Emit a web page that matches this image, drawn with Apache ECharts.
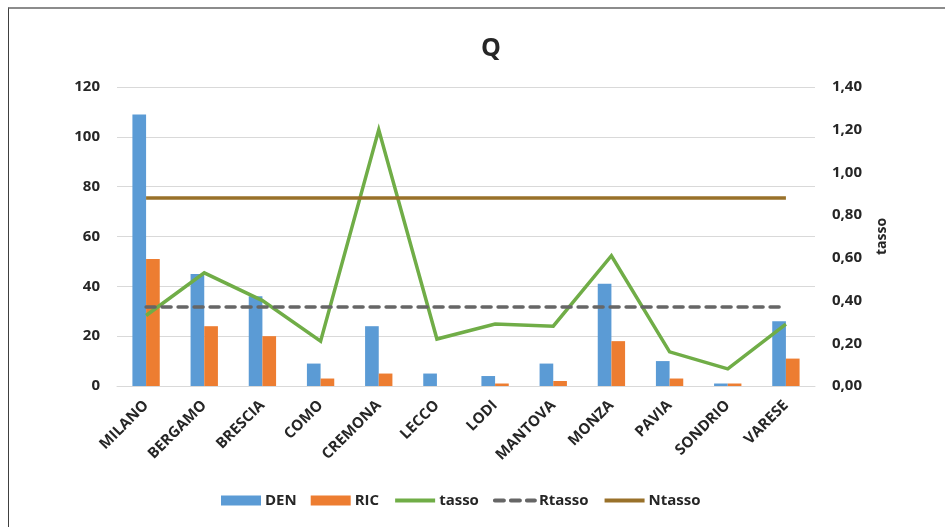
<!DOCTYPE html>
<html>
<head>
<meta charset="utf-8">
<script src="https://cdn.jsdelivr.net/npm/echarts@6/dist/echarts.min.js"></script>
<style>
html,body{margin:0;padding:0;background:#fff;}
#frame{position:absolute;left:8px;top:7px;width:960px;height:540px;border-top:2px solid #8c8c8c;border-left:1px solid #404040;}
#chart{position:absolute;left:0;top:0;width:945px;height:527px;}
</style>
</head>
<body>
<div id="frame"></div>
<div id="chart"></div>
<script>
var categories = ['MILANO','BERGAMO','BRESCIA','COMO','CREMONA','LECCO','LODI','MANTOVA','MONZA','PAVIA','SONDRIO','VARESE'];
var den = [109, 45, 36, 9, 24, 5, 4, 9, 41, 10, 1, 26];
var ric = [51, 24, 20, 3, 5, 0, 1, 2, 18, 3, 1, 11];
var tasso = [0.33, 0.53, 0.40, 0.21, 1.20, 0.22, 0.29, 0.28, 0.61, 0.16, 0.08, 0.29];
var rtasso = [0.37, 0.37, 0.37, 0.37, 0.37, 0.37, 0.37, 0.37, 0.37, 0.37, 0.37, 0.37];
var ntasso = [0.88, 0.88, 0.88, 0.88, 0.88, 0.88, 0.88, 0.88, 0.88, 0.88, 0.88, 0.88];
var leftTicks = {min: 0, max: 120, interval: 20};
var rightTicks = {min: 0, max: 1.4, interval: 0.2};

var FONT = '"Open Sans", sans-serif';
var TXT = '#262626';
var chart = echarts.init(document.getElementById('chart'), null, {renderer: 'canvas'});
chart.setOption({
  animation: false,
  backgroundColor: 'transparent',
  textStyle: {fontFamily: FONT},
  title: {
    text: 'Q', left: 476, top: 31,
    textStyle: {fontFamily: FONT, fontWeight: 'bold', fontSize: 25, color: TXT}
  },
  legend: {
    left: 216, top: 488,
    itemWidth: 40, itemHeight: 10, itemGap: 14,
    textStyle: {fontFamily: FONT, fontWeight: 'bold', fontSize: 15, color: TXT, padding: [0,0,0,-1]},
    data: [
      {name: 'DEN', icon: 'rect'},
      {name: 'RIC', icon: 'rect'},
      {name: 'tasso', itemStyle: {opacity: 0}, lineStyle: {width: 4}},
      {name: 'Rtasso', itemStyle: {opacity: 0}, lineStyle: {width: 4}},
      {name: 'Ntasso', itemStyle: {opacity: 0}, lineStyle: {width: 4}}
    ]
  },
  grid: {left: 117, right: 130, top: 87, bottom: 141},
  xAxis: {
    type: 'category', data: categories,
    axisLine: {show: true, lineStyle: {color: '#d9d9d9', width: 1}},
    axisTick: {show: false},
    axisLabel: {rotate: 45, margin: 17, interval: 0, fontFamily: FONT, fontWeight: 'bold', fontSize: 15, color: TXT}
  },
  yAxis: [
    {
      type: 'value', min: leftTicks.min, max: leftTicks.max, interval: leftTicks.interval,
      axisLine: {show: false}, axisTick: {show: false},
      splitLine: {lineStyle: {color: '#d9d9d9', width: 1}},
      axisLabel: {margin: 17, fontFamily: FONT, fontWeight: 'bold', fontSize: 15, color: TXT}
    },
    {
      type: 'value', position: 'right', min: rightTicks.min, max: rightTicks.max, interval: rightTicks.interval,
      name: 'tasso', nameLocation: 'middle', nameRotate: 90, nameGap: 60,
      nameTextStyle: {fontFamily: FONT, fontWeight: 'bold', fontSize: 14, color: TXT},
      axisLine: {show: false}, axisTick: {show: false},
      splitLine: {show: false},
      axisLabel: {margin: 17, fontFamily: FONT, fontWeight: 'bold', fontSize: 15, color: TXT,
        formatter: function (v) { return v.toFixed(2).replace('.', ','); }}
    }
  ],
  series: [
    {name: 'DEN', type: 'bar', data: den, barWidth: '23.5%', barGap: '0%', itemStyle: {color: '#5B9BD5'}},
    {name: 'RIC', type: 'bar', data: ric, barWidth: '23.5%', barGap: '0%', itemStyle: {color: '#ED7D31'}},
    {name: 'tasso', type: 'line', yAxisIndex: 1, data: tasso, symbol: 'none', showSymbol: false,
      itemStyle: {color: '#70AD47'}, lineStyle: {color: '#70AD47', width: 3.5, join: 'miter'}},
    {name: 'Rtasso', type: 'line', yAxisIndex: 1, data: rtasso, symbol: 'none', showSymbol: false,
      itemStyle: {color: '#666666'}, lineStyle: {color: '#666666', width: 3.5, type: [9, 7], cap: 'round'}},
    {name: 'Ntasso', type: 'line', yAxisIndex: 1, data: ntasso, symbol: 'none', showSymbol: false,
      itemStyle: {color: '#99712A'}, lineStyle: {color: '#99712A', width: 3.5}}
  ]
});
</script>
</body>
</html>
